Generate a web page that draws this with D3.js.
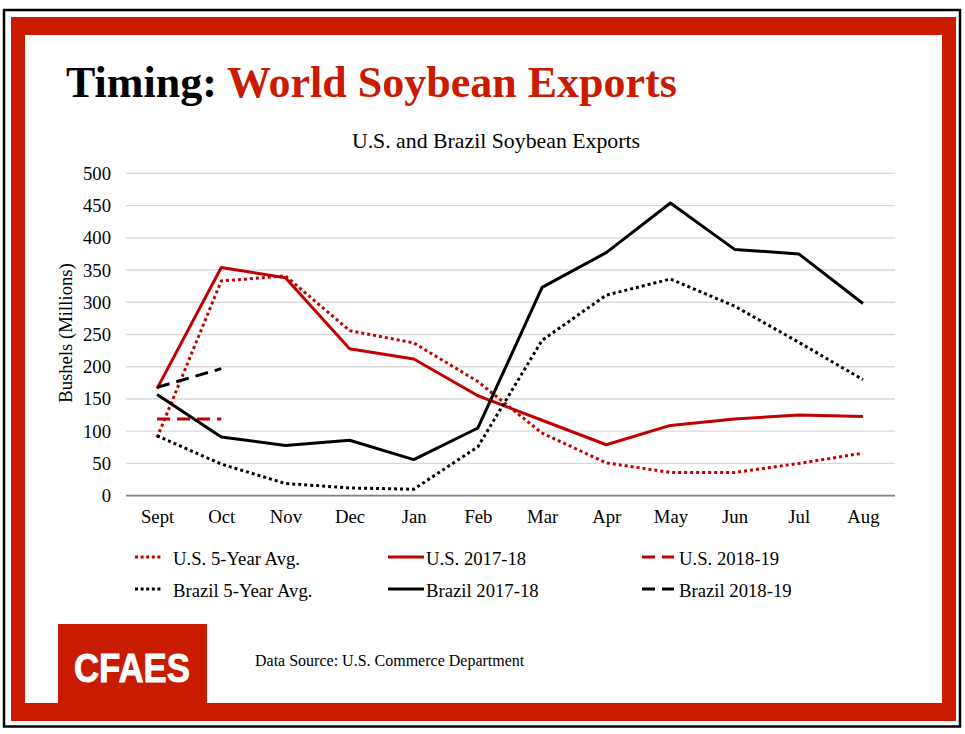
<!DOCTYPE html>
<html>
<head>
<meta charset="utf-8">
<script src="https://cdn.jsdelivr.net/npm/d3@7"></script>
<style>
  html, body { margin: 0; padding: 0; background: #fff; }
  svg { display: block; }
</style>
</head>
<body>
<svg id="chart" width="965" height="734"></svg>
<script>
// ---- Data ----
const months = ["Sept","Oct","Nov","Dec","Jan","Feb","Mar","Apr","May","Jun","Jul","Aug"];
const yTicks = [0,50,100,150,200,250,300,350,400,450,500];
const us5yr      = [90, 333, 341, 256, 237, 177, 97, 51, 36, 36, 50, 66];
const us2017     = [166, 354, 338, 228, 212, 155, 117, 79, 109, 119, 125, 123];
const us2018     = [119, 119];
const brazil5yr  = [93, 49, 19, 12, 10, 76, 241, 311, 336, 294, 238, 180];
const brazil2017 = [157, 91, 78, 86, 56, 105, 323, 377, 454, 382, 375, 298];
const brazil2018 = [168, 197];
const seriesNames = ["U.S. 5-Year Avg.","U.S. 2017-18","U.S. 2018-19","Brazil 5-Year Avg.","Brazil 2017-18","Brazil 2018-19"];

const RED_LINE = "#C00000";
const FRAME_RED = "#C81B00";
const SERIF = "'Liberation Serif','Times New Roman',Times,serif";

const series = [
  {name: seriesNames[0], values: us5yr,      color: RED_LINE, dash: "3 3"},
  {name: seriesNames[1], values: us2017,     color: RED_LINE, dash: null},
  {name: seriesNames[2], values: us2018,     color: RED_LINE, dash: "13 7"},
  {name: seriesNames[3], values: brazil5yr,  color: "#000",   dash: "3 3"},
  {name: seriesNames[4], values: brazil2017, color: "#000",   dash: null},
  {name: seriesNames[5], values: brazil2018, color: "#000",   dash: "13 7"}
];

const svg = d3.select("#chart");

// ---- Frame ----
svg.append("rect").attr("x",4).attr("y",10).attr("width",956).attr("height",716.5)
  .attr("fill","none").attr("stroke","#000").attr("stroke-width",2.5);
svg.append("path")
  .attr("d","M11,17H956V721H11Z M25,35V703H942V35Z")
  .attr("fill",FRAME_RED).attr("fill-rule","evenodd");
svg.append("rect").attr("x",58).attr("y",624).attr("width",149).attr("height",80).attr("fill",FRAME_RED);
svg.append("text").attr("x",74).attr("y",682)
  .attr("font-family","'Liberation Sans',Arial,sans-serif").attr("font-weight","bold")
  .attr("font-size",41).attr("fill","#fff")
  .attr("stroke","#fff").attr("stroke-width",0.9)
  .attr("textLength",116).attr("lengthAdjust","spacingAndGlyphs")
  .text("CFAES");
svg.append("text").attr("x",255).attr("y",666)
  .attr("font-family",SERIF).attr("font-size",16).attr("fill","#000")
  .text("Data Source: U.S. Commerce Department");

// ---- Title ----
const title = svg.append("text").attr("x",66).attr("y",97)
  .attr("font-family",SERIF).attr("font-weight","bold").attr("font-size",44);
title.append("tspan").attr("fill","#000").text("Timing: ");
title.append("tspan").attr("fill",FRAME_RED).text("World Soybean Exports");

svg.append("text").attr("x",496).attr("y",148).attr("text-anchor","middle")
  .attr("font-family",SERIF).attr("font-size",21.8).attr("fill","#000")
  .text("U.S. and Brazil Soybean Exports");

// ---- Scales ----
const x = d3.scalePoint().domain(months).range([125,895]).padding(0.5);
const y = d3.scaleLinear().domain([0,500]).range([495.7,173.3]);

// gridlines
svg.append("g").selectAll("line").data(yTicks.filter(d=>d>0)).join("line")
  .attr("x1",126).attr("x2",895)
  .attr("y1",d=>y(d)).attr("y2",d=>y(d))
  .attr("stroke","#D9D9D9").attr("stroke-width",1.3);

// y axis labels
const yAxis = d3.axisLeft(y).tickValues(yTicks).tickSize(0).tickPadding(15);
const gy = svg.append("g").attr("transform","translate(126,0)").call(yAxis);
gy.select(".domain").remove();
gy.selectAll("text").attr("font-family",SERIF).attr("font-size",18.7).attr("fill","#000");

// x axis
const xAxis = d3.axisBottom(x).tickSize(0).tickPadding(14);
const gx = svg.append("g").attr("transform",`translate(0,${y(0)})`).call(xAxis);
gx.select(".domain").attr("d","M126,0H895").attr("stroke","#808080").attr("stroke-width",1.8);
gx.selectAll("text").attr("font-family",SERIF).attr("font-size",18.7).attr("fill","#000");

// y axis title
svg.append("text").attr("transform","translate(72,333) rotate(-90)")
  .attr("text-anchor","middle").attr("font-family",SERIF).attr("font-size",18.7)
  .text("Bushels (Millions)");

// ---- Lines ----
const line = d3.line().x((d,i)=>x(months[i])).y(d=>y(d));
svg.append("g").selectAll("path").data(series).join("path")
  .attr("d",d=>line(d.values))
  .attr("fill","none")
  .attr("stroke",d=>d.color)
  .attr("stroke-width",3)
  .attr("stroke-linejoin","round")
  .attr("stroke-dasharray",d=>d.dash);

// ---- Legend ----
const colLine = [[135,163],[388,424],[642,674]];
const colText = [173,426,679];
const rowY = [557,589];
series.forEach((s,i)=>{
  const r = Math.floor(i/3), c = i%3;
  svg.append("line")
    .attr("x1",colLine[c][0]).attr("x2",colLine[c][1])
    .attr("y1",rowY[r]).attr("y2",rowY[r])
    .attr("stroke",s.color).attr("stroke-width",3)
    .attr("stroke-dasharray",s.dash ? (c===0 ? "3 2.6" : "13 7") : null);
  svg.append("text").attr("x",colText[c]).attr("y",rowY[r]+7.5)
    .attr("font-family",SERIF).attr("font-size",18.7).attr("fill","#000")
    .text(s.name);
});
</script>
</body>
</html>
